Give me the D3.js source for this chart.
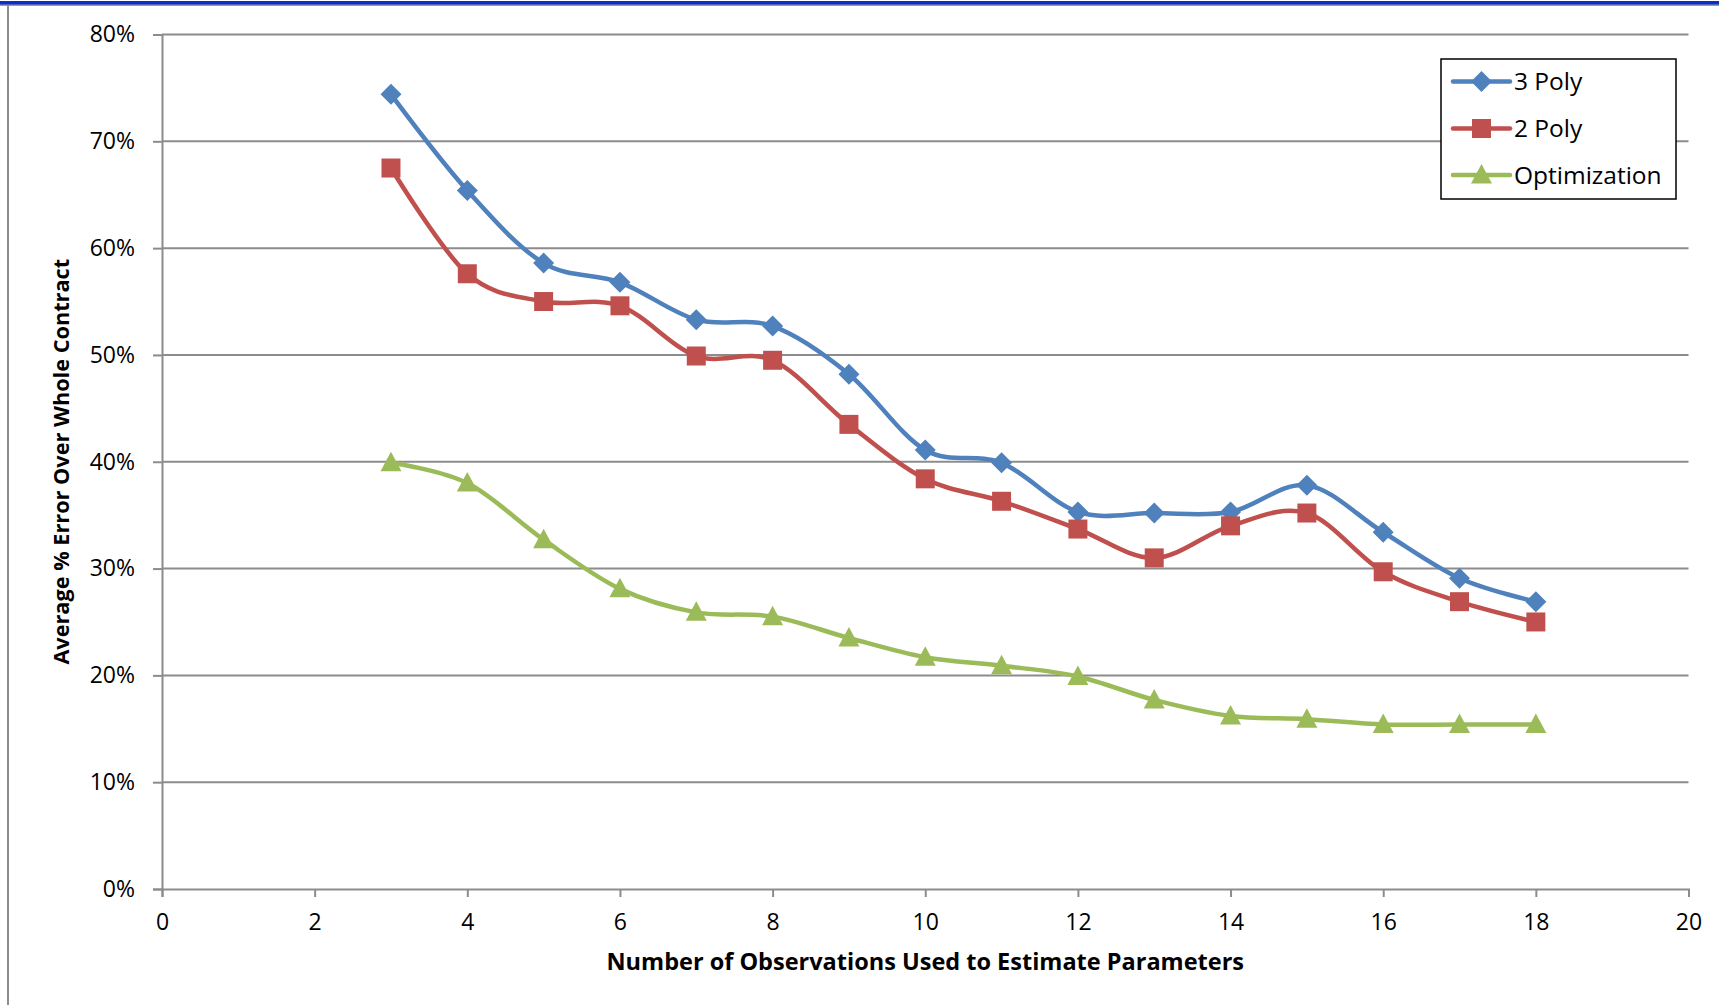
<!DOCTYPE html>
<html>
<head>
<meta charset="utf-8">
<script src="https://cdn.jsdelivr.net/npm/d3@7"></script>
<style>
  html, body { margin: 0; padding: 0; background: #fff; }
  svg { display: block; }
  text { font-family: "Open Sans", Lato, sans-serif; fill: #000; }
</style>
</head>
<body>
<svg id="chart" width="1719" height="1005"></svg>
<script>
// Number of observations used for the parameter estimate
const observations = [3, 4, 5, 6, 7, 8, 9, 10, 11, 12, 13, 14, 15, 16, 17, 18];

// Average % error over the whole contract, per method
const poly3 = [74.4, 65.4, 58.6, 56.8, 53.3, 52.7, 48.2, 41.1, 39.9, 35.3, 35.2, 35.3, 37.8, 33.4, 29.1, 26.9];
const poly2 = [67.5, 57.6, 55.0, 54.6, 49.9, 49.5, 43.5, 38.4, 36.3, 33.7, 31.0, 34.0, 35.2, 29.7, 26.9, 25.0];
const optimization = [39.9, 38.0, 32.7, 28.1, 25.9, 25.5, 23.5, 21.7, 20.9, 19.9, 17.7, 16.2, 15.9, 15.4, 15.4, 15.4];

const seriesNames = ["3 Poly", "2 Poly", "Optimization"];
const seriesColors = ["#4F81BD", "#C0504D", "#9BBB59"];
const seriesMarkers = ["diamond", "square", "triangle"];

const xTicks = [0, 2, 4, 6, 8, 10, 12, 14, 16, 18, 20];
const yTicks = [0, 10, 20, 30, 40, 50, 60, 70, 80];

const xTitle = "Number of Observations Used to Estimate Parameters";
const yTitle = "Average % Error Over Whole Contract";

const svg = d3.select("#chart");
const W = 1719, H = 1005;
const plot = { left: 162, top: 34.5, right: 1688.5, bottom: 889 };
const gridColor = "#8C8C8C";
const fontFamily = "'Open Sans', Lato, sans-serif";

// Page frame: blue rule along the top, grey rule along the left
svg.append("rect").attr("x", 0).attr("y", 4).attr("width", W).attr("height", 2).attr("fill", "#9A9A9A");
svg.append("rect").attr("x", 0).attr("y", 1).attr("width", W).attr("height", 3.5).attr("fill", "#0A2FCC");
svg.append("rect").attr("x", 7).attr("y", 5).attr("width", 2).attr("height", H).attr("fill", "#8C8C8C");

const x = d3.scaleLinear().domain([0, 20]).range([plot.left, plot.right]);
const y = d3.scaleLinear().domain([0, 80]).range([plot.bottom, plot.top]);

// y axis with percentage labels
const yAxis = d3.axisLeft(y).tickValues(yTicks).tickSize(9).tickPadding(18).tickFormat(d => d + "%");
const gy = svg.append("g").attr("transform", `translate(${plot.left},0)`).call(yAxis);
gy.select(".domain").attr("stroke", gridColor).attr("stroke-width", 2);
gy.selectAll(".tick line").attr("stroke", gridColor).attr("stroke-width", 2);
gy.selectAll(".tick text").attr("font-size", 23).attr("font-family", fontFamily).attr("fill", "#000");

// Horizontal gridlines
svg.append("g").selectAll("line").data(yTicks.filter(d => d > 0)).join("line")
  .attr("x1", plot.left).attr("x2", plot.right)
  .attr("y1", d => y(d)).attr("y2", d => y(d))
  .attr("stroke", gridColor).attr("stroke-width", 2);

// x axis
const xAxis = d3.axisBottom(x).tickValues(xTicks).tickSize(8).tickPadding(17);
const gx = svg.append("g").attr("transform", `translate(0,${plot.bottom})`).call(xAxis);
gx.select(".domain").attr("stroke", gridColor).attr("stroke-width", 2);
gx.selectAll(".tick line").attr("stroke", gridColor).attr("stroke-width", 2);
gx.selectAll(".tick text").attr("font-size", 23).attr("font-family", fontFamily).attr("fill", "#000");

// Axis titles
svg.append("text").attr("x", (plot.left + plot.right) / 2).attr("y", 970)
  .attr("text-anchor", "middle").attr("font-size", 23.5).attr("font-weight", "bold").text(xTitle);
svg.append("text").attr("transform", `translate(69,${(plot.top + plot.bottom) / 2}) rotate(-90)`)
  .attr("text-anchor", "middle").attr("font-size", 21.7).attr("font-weight", "bold").text(yTitle);

// Marker shapes (centred on the data point)
const markerPath = {
  diamond: "M0,-10.5 L10.5,0 L0,10.5 L-10.5,0 Z",
  square: "M-9.5,-9.5 H9.5 V9.5 H-9.5 Z",
  triangle: "M0,-11 L10.5,8.5 L-10.5,8.5 Z"
};
function drawMarker(g, kind, cx, cy, color) {
  return g.append("path").attr("d", markerPath[kind]).attr("fill", color)
    .attr("transform", `translate(${cx},${cy})`);
}

const line = d3.line().x(d => x(d[0])).y(d => y(d[1])).curve(d3.curveCatmullRom.alpha(0));
const seriesValues = [poly3, poly2, optimization];

seriesValues.forEach((vals, i) => {
  const pts = observations.map((o, j) => [o, vals[j]]);
  const g = svg.append("g");
  g.append("path").datum(pts).attr("d", line).attr("fill", "none")
    .attr("stroke", seriesColors[i]).attr("stroke-width", 4.5)
    .attr("stroke-linejoin", "round").attr("stroke-linecap", "round");
  pts.forEach(p => drawMarker(g, seriesMarkers[i], x(p[0]), y(p[1]), seriesColors[i]));
});

// Legend
const lg = svg.append("g");
lg.append("rect").attr("x", 1441).attr("y", 59).attr("width", 235).attr("height", 140)
  .attr("fill", "#fff").attr("stroke", "#000").attr("stroke-width", 1.5);
const legendRows = [81.5, 128.5, 175];
seriesNames.forEach((name, i) => {
  const cy = legendRows[i];
  lg.append("line").attr("x1", 1453).attr("x2", 1510).attr("y1", cy).attr("y2", cy)
    .attr("stroke", seriesColors[i]).attr("stroke-width", 4.5).attr("stroke-linecap", "round");
  drawMarker(lg, seriesMarkers[i], 1481.5, cy, seriesColors[i]);
  lg.append("text").attr("x", 1514).attr("y", cy + 8.5).attr("font-size", 24.5).text(name);
});
</script>
</body>
</html>
